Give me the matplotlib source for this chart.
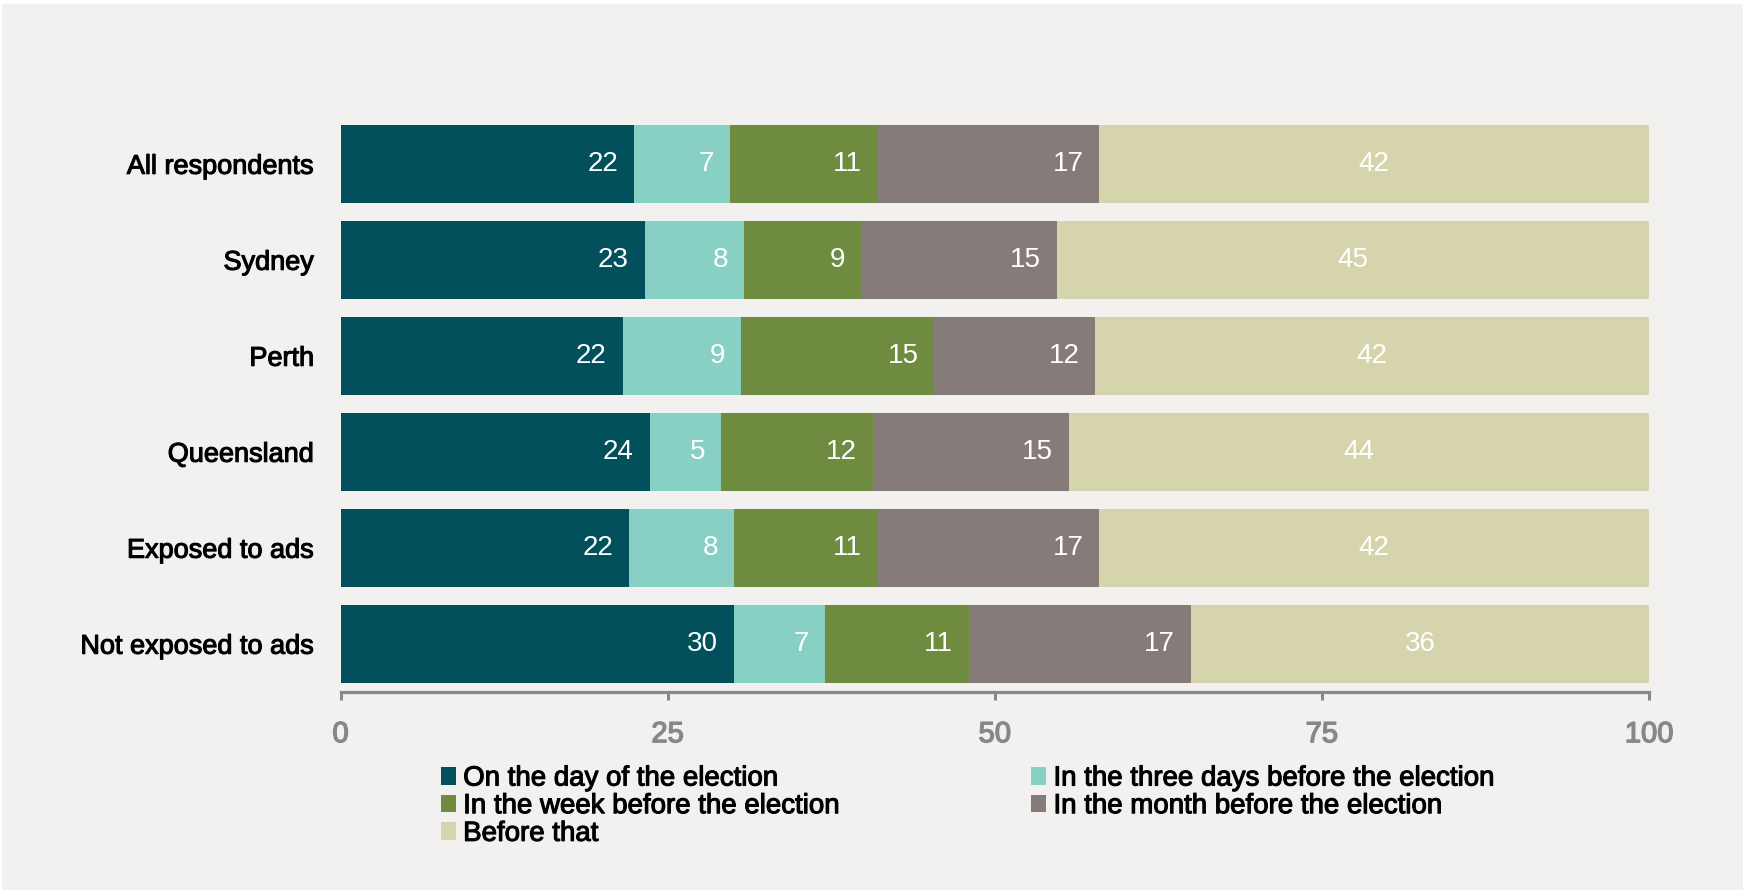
import matplotlib
matplotlib.use("Agg")
import matplotlib.pyplot as plt
import matplotlib.patheffects as pe
from matplotlib.patches import Rectangle

# ---- data ----
categories = ["All respondents", "Sydney", "Perth", "Queensland",
              "Exposed to ads", "Not exposed to ads"]
series_names = ["On the day of the election",
                "In the three days before the election",
                "In the week before the election",
                "In the month before the election",
                "Before that"]
on_day      = [22.45, 23.25, 21.57, 23.63, 22.05, 30.07]
three_days  = [7.34, 7.61, 9.02, 5.47, 8.02, 6.95]
week_before = [11.26, 8.94, 14.80, 11.57, 10.98, 11.00]
month_before= [16.94, 14.96, 12.30, 14.98, 16.94, 16.99]
before_that = [42.01, 45.24, 42.32, 44.35, 42.01, 34.98]
labels_on_day       = ["22", "23", "22", "24", "22", "30"]
labels_three_days   = ["7", "8", "9", "5", "8", "7"]
labels_week_before  = ["11", "9", "15", "12", "11", "11"]
labels_month_before = ["17", "15", "12", "15", "17", "17"]
labels_before_that  = ["42", "45", "42", "44", "42", "36"]
x_ticks = [0, 25, 50, 75, 100]

series = [on_day, three_days, week_before, month_before, before_that]
series_labels = [labels_on_day, labels_three_days, labels_week_before,
                 labels_month_before, labels_before_that]
colors = ["#01505B", "#88D0C3", "#6F8B3F", "#857B78", "#D6D4AC"]
bg = "#F2F1EF"

plt.rcParams["font.family"] = ["Liberation Sans", "DejaVu Sans"]

W, H = 1743, 890
fig = plt.figure(figsize=(W / 100, H / 100), dpi=100, facecolor="white")
fig.patches.append(Rectangle((2 / W, 0), 1, 1 - 4 / H, transform=fig.transFigure,
                             facecolor=bg, edgecolor="none", zorder=-10))

ax = fig.add_axes([340.5 / W, 1 - 691.7 / H, (1649 - 340.5) / W, (691.7 - 115.8) / H])
ax.set_facecolor("none")

ypos = list(range(len(categories)))
left = [0.0] * len(categories)
containers = []
for k, (vals, labs, col) in enumerate(zip(series, series_labels, colors)):
    c = ax.barh(ypos, vals, left=left, height=0.81, color=col,
                edgecolor="none", label=series_names[k])
    containers.append(c)
    for i, (v, l0, lab) in enumerate(zip(vals, left, labs)):
        if k == len(series) - 1:
            ax.text(l0 + v / 2, i, lab, ha="center", va="center",
                    color="white", fontsize=20)
        else:
            ax.annotate(lab, xy=(l0 + v, i), xytext=(-11.5, 0),
                        textcoords="offset points", ha="right", va="center",
                        color="white", fontsize=20)
    left = [a + b for a, b in zip(left, vals)]

ax.set_xlim(0, 100)
ax.set_ylim(len(categories) - 0.5, -0.5)
ax.set_yticks(ypos)
ax.set_yticklabels(categories)
ax.set_xticks(x_ticks)
ax.set_xticklabels([str(t) for t in x_ticks])

for s in ["top", "right", "left"]:
    ax.spines[s].set_visible(False)
ax.spines["bottom"].set_color("#888888")
ax.spines["bottom"].set_linewidth(2.3)

ax.tick_params(axis="y", length=0, pad=19, labelsize=19.5, labelcolor="black")
ax.tick_params(axis="x", direction="out", length=6, width=2.2, color="#888888",
               pad=14.5, labelsize=21, labelcolor="#878787")
for t in ax.get_yticklabels():
    t.set_path_effects([pe.withStroke(linewidth=0.8, foreground="black")])
for t in ax.get_xticklabels():
    t.set_path_effects([pe.withStroke(linewidth=1.0, foreground="#878787")])

# legend in two columns (row-wise order as in the original)
col1 = [0, 2, 4]
col2 = [1, 3]
common = dict(frameon=False, loc="upper left", fontsize=19.9, borderpad=0,
              borderaxespad=0, handlelength=0.543, handleheight=0.615,
              handletextpad=0.27, labelspacing=0.06)
leg1 = fig.legend([containers[i] for i in col1], [series_names[i] for i in col1],
                  bbox_to_anchor=(440.7 / W, 1 - 765.5 / H), **common)
leg2 = fig.legend([containers[i] for i in col2], [series_names[i] for i in col2],
                  bbox_to_anchor=(1031 / W, 1 - 765.5 / H), **common)
for lg in (leg1, leg2):
    for t in lg.get_texts():
        t.set_path_effects([pe.withStroke(linewidth=0.8, foreground="black")])

fig.savefig("out.png", dpi=100, facecolor="white")
